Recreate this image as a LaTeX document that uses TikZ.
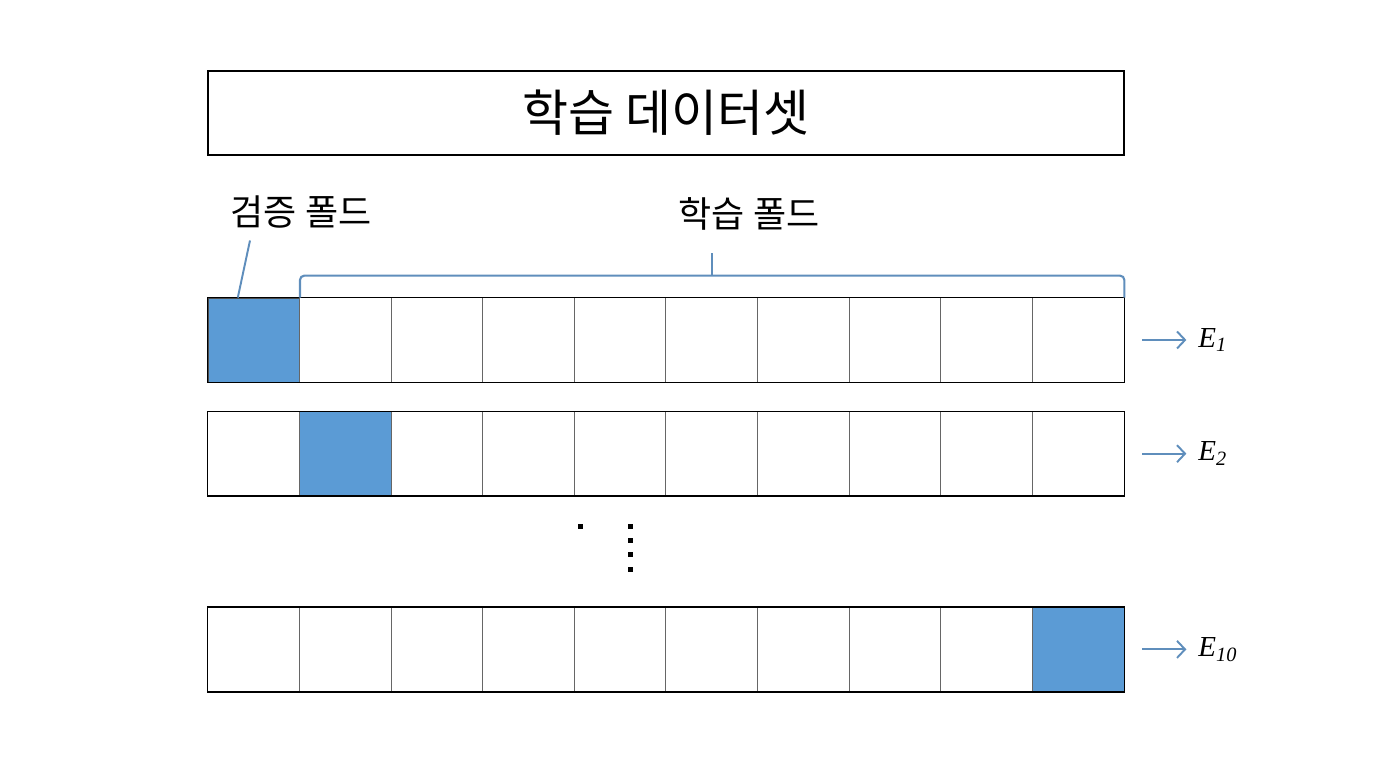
\documentclass[tikz,border=0pt]{standalone}
\usepackage{fontspec}
\setmainfont{Noto Sans CJK KR}
\newfontfamily\timesfont{Liberation Serif}
\usetikzlibrary{positioning, calc, arrows.meta}

\definecolor{foldblue}{RGB}{91,155,213}
\definecolor{lineblue}{RGB}{95,142,188}

\begin{document}
\begin{tikzpicture}[
	rowbox/.style={minimum width=18.32cm, minimum height=1.68cm, inner sep=0pt},
	fold/.style={fill=foldblue, draw=black!70, line width=0.4pt, minimum width=1.832cm, minimum height=1.68cm, inner sep=0pt},
	divider/.style={draw=black!60, line width=0.4pt},
	foldlabel/.style={font=\fontsize{20.5}{24}\selectfont},
	elabel/.style={font=\timesfont\fontsize{16.5}{20}\selectfont\itshape, anchor=west, inner sep=1pt},
	brace/.style={draw=lineblue, line width=1.2pt, rounded corners=2.5pt},
	outarrow/.style={-{Straight Barb[length=1.6mm, width=3.4mm]}, draw=lineblue, line width=1.1pt, shorten >=0.2cm}
]
	\useasboundingbox (0,0) rectangle (27.52,-15.36);

	\node[rowbox, draw, line width=0.7pt, font=\fontsize{28.5}{32}\selectfont] (title) at (13.32,-2.26) {학습 데이터셋};
	\node[rowbox, below=2.84cm of title] (r1) {};
	\node[rowbox, below=0.58cm of r1] (r2) {};
	\node[rowbox, below=2.22cm of r2] (r3) {};

	% validation folds
	\node[fold, anchor=west] (v1) at (r1.west) {};
	\node[fold, anchor=west] (v2) at ([xshift=1.832cm]r2.west) {};
	\node[fold, anchor=east] (v3) at (r3.east) {};

	\foreach \r in {r1,r2,r3} {
		\foreach \i in {1,...,9}
			\draw[divider] ([xshift=\i*1.832cm]\r.north west) -- ([xshift=\i*1.832cm]\r.south west);
		\draw[line width=0.9pt] (\r.north west) rectangle (\r.south east);
	}

	% labels
	\node[foldlabel] (vlab) at (6.02,-4.24) {검증 폴드};
	\node[foldlabel] (tlab) at (14.98,-4.28) {학습 폴드};

	\draw[draw=lineblue, line width=1.1pt] ([xshift=-1.02cm,yshift=-0.12cm]vlab.south) -- ([xshift=-0.32cm]v1.north);

	\coordinate (bmid) at ($($(v1.north east)!0.5!(r1.north east)$)+(0,0.44)$);
	\draw[brace] (v1.north east) |- (bmid) -| (r1.north east);
	\draw[brace] (bmid) -- ++(0,0.46);

	% results
	\node[elabel, right=1.44cm of r1] (e1) {E\textsubscript{1}};
	\node[elabel, right=1.44cm of r2] (e2) {E\textsubscript{2}};
	\node[elabel, right=1.44cm of r3] (e3) {E\textsubscript{10}};
	\foreach \r/\e in {r1/e1, r2/e2, r3/e3}
		\draw[outarrow] ([xshift=0.36cm]\r.east) -- (\e.west);

	% ellipsis
	\fill (11.56,-10.48) rectangle ++(0.1,-0.1);
	\foreach \y in {-10.48,-10.76,-11.04,-11.34}
		\fill (12.55,\y) rectangle ++(0.1,-0.1);
\end{tikzpicture}
\end{document}
